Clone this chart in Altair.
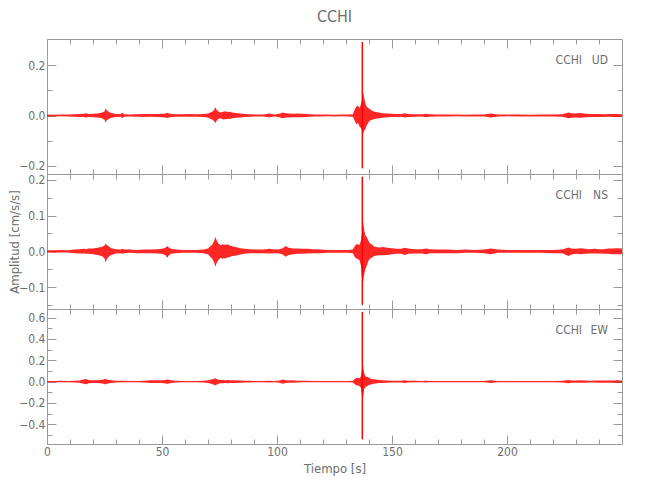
import altair as alt
import pandas as pd

# ---------------- data ----------------
TIME = [
    0, 3, 6, 9, 12, 14, 16, 17, 18, 20,
    22, 24, 25, 25.5, 26, 27, 28, 30, 32, 32.7,
    33.5, 36, 39, 42, 45, 48, 50, 51.5, 52.3, 53,
    54, 56, 59, 62, 65, 68, 70, 71, 72, 72.6,
    73.2, 73.8, 74.5, 75.5, 76.5, 77.5, 78.5, 79.5, 80.5, 82,
    84, 86, 88, 91, 94, 96.5, 99, 101, 102.5, 103.8,
    105, 107, 109, 111, 113, 116, 119, 122, 125, 128,
    131, 133, 133.8, 134.5, 135.2, 135.9, 136.5, 136.9, 137.4, 137.9,
    138.4, 139, 139.7, 140.4, 141.2, 142, 143, 144.3, 146, 148,
    150, 152, 154, 155.5, 157, 160, 163, 164.8, 166.5, 170,
    174, 178, 182, 186, 190, 193, 196, 200, 205, 210,
    215, 220, 224, 226.7, 228, 230, 232, 234, 236, 238,
    240, 242, 244, 246, 248, 250,
]

UD_HI = [
    0.004, 0.003, 0.004, 0.004, 0.005, 0.006, 0.007, 0.009, 0.006, 0.007,
    0.008, 0.012, 0.016, 0.029, 0.020, 0.014, 0.010, 0.006, 0.006, 0.011,
    0.005, 0.004, 0.005, 0.006, 0.006, 0.006, 0.007, 0.008, 0.011, 0.008,
    0.006, 0.005, 0.005, 0.006, 0.005, 0.006, 0.008, 0.012, 0.016, 0.022,
    0.033, 0.022, 0.016, 0.012, 0.015, 0.017, 0.014, 0.015, 0.012, 0.010,
    0.008, 0.006, 0.005, 0.004, 0.004, 0.008, 0.004, 0.007, 0.012, 0.009,
    0.008, 0.007, 0.008, 0.007, 0.006, 0.004, 0.004, 0.004, 0.003, 0.004,
    0.004, 0.005, 0.025, 0.035, 0.040, 0.030, 0.045, 0.060, 0.095, 0.070,
    0.050, 0.035, 0.030, 0.025, 0.020, 0.016, 0.014, 0.012, 0.009, 0.008,
    0.007, 0.006, 0.006, 0.009, 0.006, 0.005, 0.005, 0.007, 0.005, 0.004,
    0.004, 0.004, 0.003, 0.004, 0.004, 0.008, 0.004, 0.004, 0.004, 0.003,
    0.004, 0.004, 0.005, 0.012, 0.009, 0.008, 0.010, 0.007, 0.006, 0.006,
    0.006, 0.005, 0.006, 0.006, 0.006, 0.005,
]
UD_LO = [
    -0.004, -0.004, -0.003, -0.004, -0.005, -0.006, -0.006, -0.008, -0.006, -0.007,
    -0.008, -0.011, -0.017, -0.028, -0.019, -0.013, -0.009, -0.006, -0.005, -0.010,
    -0.005, -0.004, -0.005, -0.006, -0.005, -0.006, -0.007, -0.008, -0.010, -0.008,
    -0.006, -0.005, -0.005, -0.005, -0.005, -0.006, -0.008, -0.013, -0.017, -0.022,
    -0.030, -0.020, -0.014, -0.011, -0.016, -0.015, -0.013, -0.014, -0.011, -0.009,
    -0.008, -0.006, -0.005, -0.004, -0.004, -0.007, -0.004, -0.007, -0.011, -0.008,
    -0.008, -0.007, -0.007, -0.007, -0.006, -0.004, -0.004, -0.003, -0.004, -0.003,
    -0.004, -0.005, -0.022, -0.035, -0.030, -0.045, -0.050, -0.060, -0.077, -0.060,
    -0.055, -0.040, -0.028, -0.020, -0.018, -0.015, -0.013, -0.011, -0.009, -0.007,
    -0.006, -0.006, -0.005, -0.008, -0.006, -0.005, -0.004, -0.007, -0.005, -0.004,
    -0.004, -0.003, -0.004, -0.004, -0.004, -0.008, -0.004, -0.003, -0.004, -0.004,
    -0.004, -0.004, -0.005, -0.011, -0.009, -0.008, -0.009, -0.007, -0.006, -0.006,
    -0.006, -0.006, -0.005, -0.006, -0.006, -0.005,
]

NS_HI = [
    0.003, 0.003, 0.004, 0.003, 0.005, 0.006, 0.007, 0.006, 0.008, 0.008,
    0.010, 0.013, 0.016, 0.022, 0.018, 0.013, 0.009, 0.006, 0.005, 0.007,
    0.005, 0.005, 0.004, 0.005, 0.005, 0.006, 0.007, 0.010, 0.015, 0.010,
    0.007, 0.005, 0.004, 0.004, 0.004, 0.005, 0.008, 0.014, 0.020, 0.028,
    0.040, 0.030, 0.022, 0.017, 0.020, 0.018, 0.020, 0.016, 0.014, 0.012,
    0.009, 0.007, 0.006, 0.005, 0.005, 0.007, 0.005, 0.006, 0.009, 0.015,
    0.010, 0.008, 0.008, 0.007, 0.007, 0.006, 0.005, 0.004, 0.004, 0.004,
    0.004, 0.005, 0.015, 0.020, 0.020, 0.018, 0.030, 0.050, 0.083, 0.060,
    0.045, 0.040, 0.030, 0.022, 0.020, 0.014, 0.012, 0.011, 0.012, 0.010,
    0.009, 0.007, 0.007, 0.010, 0.008, 0.006, 0.006, 0.008, 0.006, 0.005,
    0.005, 0.004, 0.005, 0.004, 0.005, 0.008, 0.005, 0.004, 0.004, 0.004,
    0.004, 0.004, 0.005, 0.011, 0.008, 0.007, 0.009, 0.007, 0.006, 0.007,
    0.006, 0.006, 0.008, 0.008, 0.009, 0.008,
]
NS_LO = [
    -0.003, -0.004, -0.003, -0.003, -0.005, -0.006, -0.006, -0.007, -0.007, -0.008,
    -0.010, -0.014, -0.020, -0.031, -0.022, -0.014, -0.010, -0.006, -0.005, -0.007,
    -0.005, -0.004, -0.005, -0.005, -0.005, -0.006, -0.007, -0.011, -0.018, -0.011,
    -0.007, -0.005, -0.004, -0.004, -0.004, -0.005, -0.008, -0.015, -0.022, -0.030,
    -0.043, -0.032, -0.024, -0.018, -0.021, -0.019, -0.017, -0.016, -0.013, -0.012,
    -0.009, -0.007, -0.005, -0.005, -0.005, -0.006, -0.005, -0.006, -0.009, -0.015,
    -0.010, -0.008, -0.007, -0.007, -0.006, -0.005, -0.005, -0.004, -0.004, -0.004,
    -0.004, -0.005, -0.016, -0.020, -0.022, -0.025, -0.040, -0.070, -0.086, -0.065,
    -0.050, -0.040, -0.028, -0.020, -0.018, -0.014, -0.012, -0.011, -0.011, -0.010,
    -0.008, -0.007, -0.007, -0.010, -0.007, -0.006, -0.006, -0.008, -0.005, -0.005,
    -0.005, -0.005, -0.004, -0.004, -0.005, -0.008, -0.004, -0.004, -0.004, -0.004,
    -0.004, -0.005, -0.005, -0.013, -0.009, -0.007, -0.008, -0.007, -0.006, -0.006,
    -0.006, -0.007, -0.007, -0.008, -0.008, -0.008,
]

EW_HI = [
    0.006, 0.006, 0.007, 0.006, 0.008, 0.010, 0.020, 0.025, 0.015, 0.012,
    0.014, 0.018, 0.022, 0.026, 0.020, 0.016, 0.012, 0.008, 0.007, 0.008,
    0.007, 0.006, 0.006, 0.008, 0.012, 0.012, 0.014, 0.016, 0.020, 0.018,
    0.012, 0.008, 0.006, 0.006, 0.006, 0.008, 0.014, 0.018, 0.022, 0.026,
    0.031, 0.024, 0.018, 0.016, 0.015, 0.014, 0.016, 0.014, 0.014, 0.012,
    0.010, 0.009, 0.008, 0.006, 0.006, 0.008, 0.006, 0.010, 0.020, 0.012,
    0.010, 0.012, 0.008, 0.008, 0.007, 0.006, 0.005, 0.005, 0.005, 0.005,
    0.005, 0.008, 0.025, 0.035, 0.037, 0.030, 0.050, 0.100, 0.157, 0.080,
    0.050, 0.045, 0.040, 0.030, 0.025, 0.022, 0.020, 0.015, 0.012, 0.010,
    0.008, 0.008, 0.008, 0.012, 0.008, 0.007, 0.006, 0.008, 0.006, 0.006,
    0.006, 0.005, 0.006, 0.005, 0.006, 0.012, 0.006, 0.005, 0.005, 0.005,
    0.005, 0.006, 0.008, 0.016, 0.010, 0.010, 0.012, 0.010, 0.009, 0.010,
    0.010, 0.010, 0.011, 0.010, 0.012, 0.010,
]
EW_LO = [
    -0.006, -0.007, -0.006, -0.006, -0.008, -0.010, -0.020, -0.024, -0.016, -0.012,
    -0.014, -0.017, -0.022, -0.026, -0.021, -0.015, -0.012, -0.008, -0.007, -0.008,
    -0.007, -0.006, -0.006, -0.008, -0.012, -0.012, -0.014, -0.017, -0.020, -0.018,
    -0.012, -0.008, -0.006, -0.006, -0.006, -0.008, -0.014, -0.018, -0.024, -0.030,
    -0.037, -0.026, -0.020, -0.016, -0.015, -0.014, -0.015, -0.014, -0.013, -0.012,
    -0.010, -0.009, -0.008, -0.006, -0.006, -0.008, -0.006, -0.010, -0.020, -0.012,
    -0.010, -0.011, -0.008, -0.007, -0.007, -0.006, -0.005, -0.005, -0.005, -0.005,
    -0.005, -0.008, -0.025, -0.035, -0.037, -0.040, -0.060, -0.120, -0.157, -0.070,
    -0.050, -0.045, -0.035, -0.030, -0.025, -0.020, -0.018, -0.014, -0.012, -0.010,
    -0.008, -0.008, -0.008, -0.012, -0.008, -0.007, -0.006, -0.008, -0.006, -0.006,
    -0.006, -0.006, -0.005, -0.005, -0.006, -0.012, -0.006, -0.005, -0.005, -0.005,
    -0.005, -0.006, -0.008, -0.015, -0.010, -0.010, -0.011, -0.010, -0.009, -0.009,
    -0.010, -0.011, -0.010, -0.010, -0.011, -0.010,
]

SPIKE_T = 137.1
SPIKE_HI = [0.293, 0.208, 0.65]
SPIKE_LO = [-0.21, -0.149, -0.54]

STATION = "CCHI"
CHANNELS = ["UD", "NS", "EW"]
HI = [UD_HI, NS_HI, EW_HI]
LO = [UD_LO, NS_LO, EW_LO]

Y_DOMAINS = [[-0.233, 0.305], [-0.161, 0.216], [-0.585, 0.681]]
Y_MAJOR = [[-0.2, 0.0, 0.2], [-0.1, 0.0, 0.1, 0.2], [-0.4, -0.2, 0.0, 0.2, 0.4, 0.6]]
Y_MINOR = [[-0.1, 0.1], [-0.15, -0.05, 0.05, 0.15], [-0.5, -0.3, -0.1, 0.1, 0.3, 0.5]]
X_DOMAIN = [0, 250]
X_MAJOR = [0, 50, 100, 150, 200]
X_MINOR = [10, 20, 30, 40, 60, 70, 80, 90, 110, 120, 130, 140,
           160, 170, 180, 190, 210, 220, 230, 240]

# ---------------- styling ----------------
RED = "#ff0000"
TXT = "#6e6e6e"
LINE = "#9a9a9a"
FONT = "Liberation Sans Narrow, DejaVu Sans Condensed, Roboto Condensed, Arial Narrow, sans-serif"
W, H = 575, 135
MAJ, MIN = 9, 5


def axis(orient, values, size, labels=False, title=None, fmt=None):
    kw = dict(orient=orient, values=values, tickSize=size, offset=-size,
              domain=False, grid=False, labels=labels, ticks=True,
              tickColor=LINE, tickWidth=1, minExtent=0, title=title,
              labelFlush=False, labelPadding=2, titlePadding=-3)
    if orient == "bottom":
        kw["titlePadding"] = 5
    if fmt:
        kw["format"] = fmt
    return alt.Axis(**kw)


def panel(i):
    df = pd.DataFrame({"t": TIME, "hi": HI[i], "lo": LO[i]})
    sp = pd.DataFrame({"t": [SPIKE_T], "hi": [SPIKE_HI[i]], "lo": [SPIKE_LO[i]]})
    xs = alt.Scale(domain=X_DOMAIN, nice=False, zero=False)
    ys = alt.Scale(domain=Y_DOMAINS[i], nice=False, zero=False)
    last = i == 2
    xtitle = "Tiempo [s]" if last else None
    ytitle = "Amplitud [cm/s/s]" if i == 1 else None

    area = alt.Chart(df).mark_area(color=RED, opacity=0.85).encode(
        x=alt.X("t:Q", scale=xs, axis=axis("bottom", X_MAJOR, MAJ, labels=last, title=xtitle)),
        y=alt.Y("lo:Q", scale=ys, axis=axis("left", Y_MAJOR[i], MAJ, labels=True, title=ytitle, fmt=".1f")),
        y2="hi:Q",
    )
    spike_a = alt.Chart(sp).mark_rule(color=RED, strokeWidth=1).encode(
        x=alt.X("t:Q", scale=xs, axis=axis("bottom", X_MINOR, MIN)),
        y=alt.Y("lo:Q", scale=ys, axis=axis("left", Y_MINOR[i], MIN)),
        y2="hi:Q",
    )
    spike_b = alt.Chart(sp).mark_rule(color=RED, strokeWidth=1).encode(
        x=alt.X("t:Q", scale=xs, axis=axis("top", X_MAJOR, MAJ)),
        y=alt.Y("lo:Q", scale=ys, axis=axis("right", Y_MAJOR[i], MAJ)),
        y2="hi:Q",
    )
    spike_c = alt.Chart(sp).mark_rule(color=RED, strokeWidth=1).encode(
        x=alt.X("t:Q", scale=xs, axis=axis("top", X_MINOR, MIN)),
        y=alt.Y("lo:Q", scale=ys, axis=axis("right", Y_MINOR[i], MIN)),
        y2="hi:Q",
    )
    lab1 = alt.Chart(sp).mark_text(text=STATION, align="right", baseline="alphabetic",
                                   font=FONT, fontSize=12, color=TXT).encode(
        x=alt.value(W - 40), y=alt.value(25))
    lab2 = alt.Chart(sp).mark_text(text=CHANNELS[i], align="right", baseline="alphabetic",
                                   font=FONT, fontSize=12, color=TXT).encode(
        x=alt.value(W - 14), y=alt.value(25))

    layer = alt.layer(area, spike_a, spike_b, spike_c, lab1, lab2).resolve_axis(
        x="independent", y="independent").properties(width=W, height=H)
    if i == 0:
        layer = layer.properties(title=alt.TitleParams(
            STATION, anchor="middle", frame="group", fontSize=16, color=TXT,
            font=FONT, fontWeight="normal", offset=14))
    return layer


chart = alt.vconcat(*[panel(i) for i in range(3)], spacing=0, bounds="flush").properties(
    padding={"left": 0, "top": 0, "right": 5, "bottom": 5}
).configure_view(stroke=LINE, strokeWidth=1).configure_axis(
    labelFont=FONT, titleFont=FONT, labelColor=TXT, titleColor=TXT,
    labelFontSize=12, titleFontSize=13, titleFontWeight="normal",
)

chart.save("out.html", embed_options={"renderer": "svg", "actions": False})
